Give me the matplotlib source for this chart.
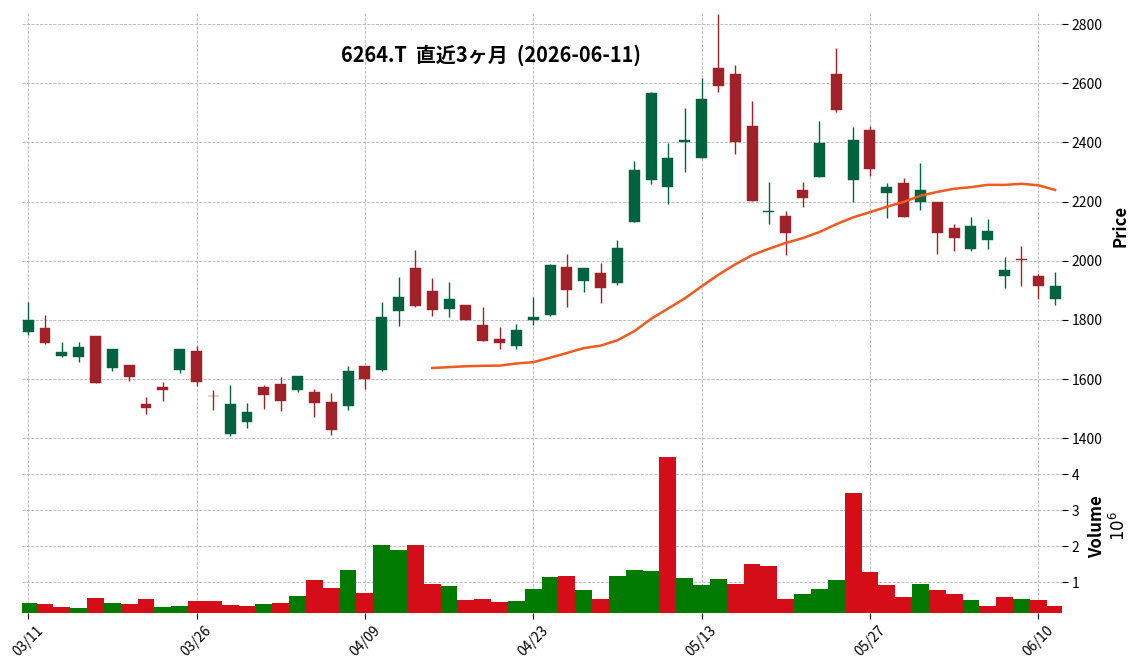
import matplotlib
matplotlib.use('Agg')
import matplotlib.pyplot as plt
from matplotlib.patches import Rectangle
import numpy as np
import pandas as pd

plt.rcParams['font.family'] = ['Noto Sans CJK JP', 'DejaVu Sans']

# trading days (MM/DD), 2026-03-11 .. 2026-06-11
dates = ['03/11', '03/12', '03/13', '03/16', '03/17', '03/18', '03/19', '03/23', '03/24', '03/25',
         '03/26', '03/27', '03/30', '03/31', '04/01', '04/02', '04/03', '04/06', '04/07', '04/08',
         '04/09', '04/10', '04/13', '04/14', '04/15', '04/16', '04/17', '04/20', '04/21', '04/22',
         '04/23', '04/24', '04/27', '04/28', '04/30', '05/01', '05/07', '05/08', '05/11', '05/12',
         '05/13', '05/14', '05/15', '05/18', '05/19', '05/20', '05/21', '05/22', '05/25', '05/26',
         '05/27', '05/28', '05/29', '06/01', '06/02', '06/03', '06/04', '06/05', '06/08', '06/09',
         '06/10', '06/11']

opens = [1759, 1772, 1678, 1675, 1745, 1638, 1647, 1517, 1572, 1631,
         1694, 1544, 1413, 1454, 1572, 1584, 1562, 1557, 1524, 1508,
         1643, 1629, 1829, 1974, 1899, 1836, 1852, 1784, 1734, 1711,
         1799, 1818, 1980, 1930, 1960, 1924, 2131, 2272, 2249, 2402,
         2348, 2652, 2632, 2455, 2165, 2150, 2238, 2284, 2633, 2274,
         2442, 2229, 2262, 2199, 2199, 2110, 2039, 2069, 1948, 2007,
         1949, 1870]
highs = [1862, 1818, 1724, 1726, 1747, 1700, 1647, 1540, 1590, 1700,
         1712, 1564, 1580, 1519, 1580, 1607, 1611, 1566, 1552, 1645,
         1643, 1862, 1945, 2037, 1942, 1929, 1852, 1844, 1776, 1787,
         1878, 1989, 2024, 1977, 1993, 2069, 2338, 2570, 2397, 2515,
         2618, 2834, 2661, 2540, 2267, 2168, 2267, 2471, 2719, 2451,
         2455, 2262, 2281, 2329, 2199, 2123, 2147, 2140, 2013, 2050,
         1954, 1963]
lows = [1750, 1718, 1673, 1656, 1587, 1626, 1595, 1482, 1526, 1622,
        1578, 1494, 1407, 1435, 1499, 1493, 1555, 1472, 1412, 1494,
        1566, 1628, 1780, 1845, 1814, 1810, 1799, 1728, 1702, 1702,
        1784, 1812, 1844, 1894, 1858, 1919, 2131, 2258, 2191, 2301,
        2348, 2570, 2362, 2201, 2125, 2020, 2183, 2284, 2504, 2200,
        2287, 2146, 2148, 2173, 2024, 2033, 2032, 2039, 1907, 1913,
        1872, 1850]
closes = [1801, 1722, 1691, 1707, 1587, 1700, 1607, 1501, 1562, 1700,
          1591, 1542, 1514, 1488, 1545, 1525, 1611, 1518, 1428, 1628,
          1600, 1811, 1879, 1846, 1833, 1869, 1799, 1730, 1721, 1767,
          1811, 1984, 1900, 1977, 1907, 2042, 2306, 2567, 2347, 2407,
          2547, 2592, 2401, 2201, 2167, 2094, 2212, 2399, 2510, 2408,
          2311, 2249, 2148, 2238, 2094, 2077, 2117, 2101, 1968, 2003,
          1915, 1913]
# volume in units of 10^6 shares
volumes = [0.42, 0.39, 0.31, 0.28, 0.56, 0.42, 0.39, 0.53, 0.31, 0.34,
           0.48, 0.48, 0.36, 0.34, 0.39, 0.42, 0.62, 1.07, 0.84, 1.35,
           0.70, 2.02, 1.88, 2.02, 0.95, 0.90, 0.50, 0.53, 0.45, 0.48,
           0.81, 1.15, 1.18, 0.79, 0.53, 1.18, 1.35, 1.32, 4.49, 1.12,
           0.93, 1.09, 0.95, 1.51, 1.46, 0.53, 0.67, 0.81, 1.07, 3.48,
           1.29, 0.93, 0.59, 0.95, 0.79, 0.67, 0.50, 0.34, 0.59, 0.53,
           0.50, 0.34]

ticker = '6264.T'
title = ticker + '  直近3ヶ月  (2026-06-11)'

up_c, down_c = '#006340', '#a02128'
vup_c, vdown_c = '#007a00', '#d50d18'
grid_kw = dict(color='#b4b4b4', linestyle='--', linewidth=0.6)

x = np.arange(len(dates))
o = np.array(opens); h = np.array(highs); l = np.array(lows); c = np.array(closes)
mav = pd.Series(c, dtype=float).rolling(25).mean()

fig = plt.figure(figsize=(11.37, 6.70), dpi=100)
ax = fig.add_axes([0.0193, 0.3433, 0.9143, 0.6388])
axv = fig.add_axes([0.0193, 0.0855, 0.9143, 0.2578], sharex=ax)

# candles
bw = 0.65
for i in x:
    col = up_c if c[i] >= o[i] else down_c
    ax.vlines(i, l[i], h[i], color=col, linewidth=1.0, zorder=2)
    lo, hi = min(o[i], c[i]), max(o[i], c[i])
    ax.add_patch(Rectangle((i - bw / 2, lo), bw, max(hi - lo, 1.5),
                           facecolor=col, edgecolor=col, linewidth=0.3, zorder=3))
ax.plot(x, mav, color='#f05a1e', linewidth=1.8, zorder=4)

# volume, coloured by close vs previous close
vcols = [vup_c] + [vup_c if c[i] > c[i - 1] else vdown_c for i in range(1, len(c))]
axv.bar(x, volumes, width=1.0, color=vcols, linewidth=0, zorder=2)

for a in (ax, axv):
    for s in a.spines.values():
        s.set_visible(False)
    a.yaxis.tick_right()
    a.yaxis.set_label_position('right')
    a.grid(True, **grid_kw)
    a.set_axisbelow(True)
    a.tick_params(labelsize=10, length=4, width=0.8, colors='black')

ax.set_xlim(-0.37, 61.38)
ax.set_ylim(1394, 2841)
ax.set_yticks([1400, 1600, 1800, 2000, 2200, 2400, 2600, 2800])
ax.tick_params(axis='x', bottom=False, labelbottom=False)
ax.set_ylabel('Price', fontsize=12, fontweight='bold', labelpad=6)

axv.set_ylim(0.15, 4.95)
axv.set_yticks([1, 2, 3, 4])
tick_pos = x[::10]
axv.set_xticks(tick_pos)
axv.set_xticklabels([dates[i] for i in tick_pos], rotation=45, fontsize=10)
axv.set_ylabel('Volume\n$10^{6}$', fontsize=12, fontweight='bold', labelpad=6)

fig.text(0.432, 0.918, title, ha='center', va='center', fontsize=14.4, fontweight='bold')

fig.savefig('out.png', dpi=100)
